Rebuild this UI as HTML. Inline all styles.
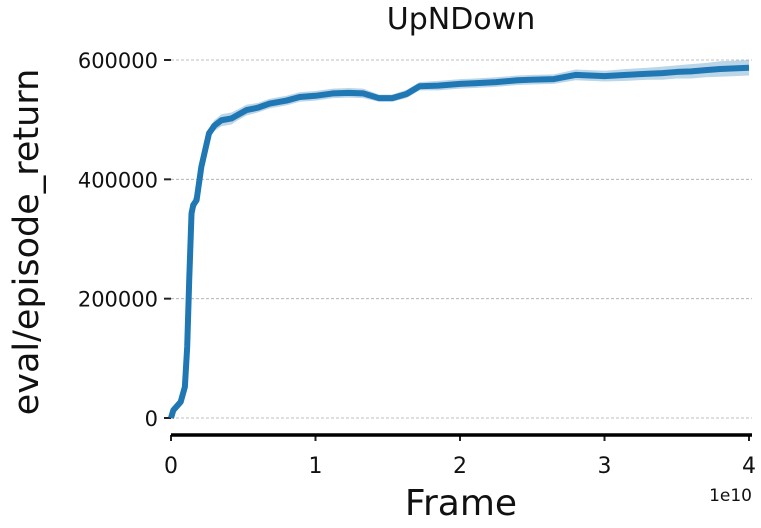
<!DOCTYPE html>
<html><head><meta charset="utf-8"><style>
body{margin:0;background:#fff}
svg text{font-family:"DejaVu Sans","Liberation Sans",sans-serif;fill:#111}
</style></head><body>
<svg id="chart" width="761" height="523" viewBox="0 0 761 523" xmlns="http://www.w3.org/2000/svg">
<text x="461" y="29" font-size="30" text-anchor="middle">UpNDown</text>
<g id="grid"></g>
<g id="yticks"></g>
<g id="xticks"></g>
<path id="band" fill="#1f77b4" fill-opacity="0.3" stroke="none"/>
<path id="line" fill="none" stroke="#1f77b4" stroke-width="6" stroke-linejoin="round"/>
<line x1="171" y1="435" x2="752" y2="435" stroke="#000" stroke-width="3.5"/>
<text transform="translate(38,242) rotate(-90)" font-size="35" text-anchor="middle">eval/episode_return</text>
<text x="461" y="515" font-size="36" text-anchor="middle">Frame</text>
<text x="752" y="501" font-size="17" text-anchor="end">1e10</text>
</svg>
<script>
const xs=[0,0.16,0.67,0.96,1.12,1.26,1.42,1.54,1.77,2.1,2.63,3.0,3.49,4.18,4.7,5.22,6.0,6.83,8.0,8.9,10,11.2,12.3,13.3,14.4,15.3,16.3,17.2,18.5,20,21,22.5,24,25,26.5,28,30,31.5,33,34,35,36,37,38,39,40];
const ys=[0,13,27,52,119,231,343,357,365,421,477,490,499,502,509,516,520,527,532,538,540,544,545,544,536,536,543,556,557,560,561,563,566,567,568,575,573,575,577,578,580,581,583,585,586,587];
const spread=[2,4,5,6,8,10,12,12,10,10,8,9,10,10,9,9,8,8,8,8,8,8,8,8,6,6,7,7,8,8,8,8,8,8,8,9,9,10,10,11,11,12,12,13,13,13];
const yTicks=[0,200000,400000,600000];
const xTicks=[0,1,2,3,4];
const X=v=>171+v*1e9/1e10*144.5;
const Y=v=>418-v*1000/600000*358;
const Yr=v=>418-v/600000*358;
const NS='http://www.w3.org/2000/svg';
const grid=document.getElementById('grid'),yt=document.getElementById('yticks'),xt=document.getElementById('xticks');
yTicks.forEach(t=>{
 const y=Yr(t);
 const g=document.createElementNS(NS,'line');
 
 
 g.setAttribute('x1',171);g.setAttribute('x2',752);g.setAttribute('y1',y);g.setAttribute('y2',y);
 g.setAttribute('stroke','#aaa');g.setAttribute('stroke-width','0.8');g.setAttribute('stroke-dasharray','3,2');
 grid.appendChild(g);
 const tk=document.createElementNS(NS,'line');
 
 
 tk.setAttribute('x1',164);tk.setAttribute('x2',171);tk.setAttribute('y1',y);tk.setAttribute('y2',y);
 tk.setAttribute('stroke','#222');tk.setAttribute('stroke-width','2');
 yt.appendChild(tk);
 const tx=document.createElementNS(NS,'text');
 
 
 tx.setAttribute('x',158);tx.setAttribute('y',y+8);tx.setAttribute('font-size','21');tx.setAttribute('text-anchor','end');
 tx.textContent=t;yt.appendChild(tx);
});
xTicks.forEach(t=>{
 const x=171+t*144.5;
 const tk=document.createElementNS(NS,'line');
 
 
 tk.setAttribute('x1',x);tk.setAttribute('x2',x);tk.setAttribute('y1',435);tk.setAttribute('y2',441);
 tk.setAttribute('stroke','#222');tk.setAttribute('stroke-width','2');
 xt.appendChild(tk);
 const tx=document.createElementNS(NS,'text');
 
 
 tx.setAttribute('x',x);tx.setAttribute('y',473);tx.setAttribute('font-size','22');tx.setAttribute('text-anchor','middle');
 tx.textContent=t;xt.appendChild(tx);
});
let d='';xs.forEach((x,i)=>{d+=(i?'L':'M')+X(x)+','+Y(ys[i]);});
document.getElementById('line').setAttribute('d',d);
let b='';xs.forEach((x,i)=>{b+=(i?'L':'M')+X(x)+','+Y(ys[i]+spread[i]);});
for(let i=xs.length-1;i>=0;i--)b+='L'+X(xs[i])+','+Y(ys[i]-spread[i]);
document.getElementById('band').setAttribute('d',b+'Z');
</script>
</body></html>
